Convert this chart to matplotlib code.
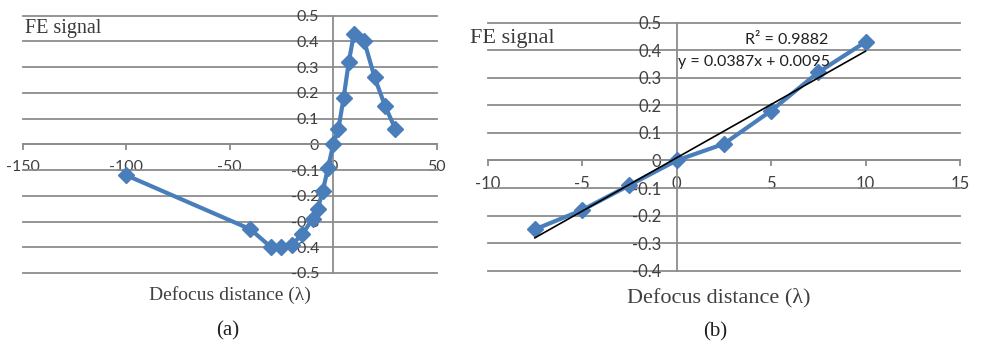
import matplotlib
matplotlib.use("Agg")
import matplotlib.pyplot as plt
import numpy as np

# ---- data ----
left_x = [-100, -40, -30, -25, -20, -15, -10, -7.5, -5, -2.5, 0, 2.5, 5, 7.5, 10, 15, 20, 25, 30]
left_y = [-0.12, -0.33, -0.40, -0.40, -0.39, -0.35, -0.29, -0.25, -0.18, -0.09, 0.0, 0.06, 0.18, 0.32, 0.43, 0.40, 0.26, 0.15, 0.06]

right_x = [-7.5, -5, -2.5, 0, 2.5, 5, 7.5, 10]
right_y = [-0.25, -0.18, -0.09, 0.0, 0.06, 0.18, 0.32, 0.43]

trend_slope = 0.0387
trend_intercept = 0.0095

left_xticks = [-150, -100, -50, 0, 50]
left_xticklabels = ["-150", "-100", "-50", "0", "50"]
left_yticks = [0.5, 0.4, 0.3, 0.2, 0.1, 0.0, -0.1, -0.2, -0.3, -0.4, -0.5]
left_yticklabels = ["0.5", "0.4", "0.3", "0.2", "0.1", "0", "-0.1", "-0.2", "-0.3", "-0.4", "-0.5"]

right_xticks = [-10, -5, 0, 5, 10, 15]
right_xticklabels = ["-10", "-5", "0", "5", "10", "15"]
right_yticks = [0.5, 0.4, 0.3, 0.2, 0.1, 0.0, -0.1, -0.2, -0.3, -0.4]
right_yticklabels = ["0.5", "0.4", "0.3", "0.2", "0.1", "0", "-0.1", "-0.2", "-0.3", "-0.4"]

ylabel_text = "FE signal"
xlabel_text = "Defocus distance (\u03bb)"
eq_text = "y = 0.0387x + 0.0095"
r2_text = "R\u00b2 = 0.9882"

# ---- style ----
BLUE = "#4a7ebb"
GRID = "#8c8c8c"
TICKC = "#404040"
SERIF = ["Liberation Serif", "DejaVu Serif"]
SANS = ["Lato", "DejaVu Sans"]

fig = plt.figure(figsize=(9.87, 3.44), dpi=100)


def style_axes(ax, xlim, ylim, xticks, xtl, yticks, ytl, fs, ypad):
    ax.set_xlim(*xlim)
    ax.set_ylim(*ylim)
    for s in ("top", "right"):
        ax.spines[s].set_visible(False)
    ax.spines["left"].set_position(("data", 0))
    ax.spines["bottom"].set_position(("data", 0))
    for s in ("left", "bottom"):
        ax.spines[s].set_color(GRID)
        ax.spines[s].set_linewidth(1.3)
    ax.set_xticks(xticks)
    ax.set_xticklabels(xtl, fontfamily=SANS, fontsize=fs, color=TICKC)
    ax.set_yticks(yticks)
    ax.set_yticklabels(ytl, fontfamily=SANS, fontsize=fs, color=TICKC)
    ax.tick_params(axis="x", direction="out", length=4, width=1.3, color=GRID, pad=7.5)
    ax.tick_params(axis="y", length=0, pad=ypad)
    ax.yaxis.grid(True, color=GRID, linewidth=1.3)
    for gl in ax.get_ygridlines():
        gl.set_clip_on(False)
    ax.set_axisbelow(True)
    ax.patch.set_alpha(0)


# Left panel (a)
axL = fig.add_axes([0.023, 0.2064, 0.4195, 0.7478])
style_axes(axL, (-150, 50), (-0.5, 0.5), left_xticks, left_xticklabels,
           left_yticks, left_yticklabels, 11.5, 10)
axL.plot(left_x, left_y, color=BLUE, lw=3.0, marker="D", ms=8, mec=BLUE, mfc=BLUE, zorder=3)
fig.text(25 / 987, 1 - 28 / 344, ylabel_text, fontfamily=SERIF, fontsize=14.5,
         color="#3a3a3a", ha="left", va="center")
fig.text(230 / 987, 1 - 295 / 344, xlabel_text, fontfamily=SERIF, fontsize=14,
         color="#404040", ha="center", va="center")
fig.text(228 / 987, 1 - 331 / 344, "(a)", fontfamily=SERIF, fontsize=15,
         color="#202020", ha="center", va="center")

# Right panel (b)
axR = fig.add_axes([0.4941, 0.2131, 0.4785, 0.7210])
style_axes(axR, (-10, 15), (-0.4, 0.5), right_xticks, right_xticklabels,
           right_yticks, right_yticklabels, 12, 11)
axR.plot(right_x, right_y, color=BLUE, lw=3.0, marker="D", ms=8, mec=BLUE, mfc=BLUE, zorder=3)
tx = np.array([min(right_x), max(right_x)])
axR.plot(tx, trend_slope * tx + trend_intercept, color="black", lw=1.2, zorder=4)
axR.text(5.85, 0.437, r2_text, fontfamily=SANS, fontsize=11.5, color="#202020",
         ha="center", va="center")
axR.text(0.07, 0.357, eq_text, fontfamily=SANS, fontsize=11.5, color="#202020",
         ha="left", va="center")
fig.text(470 / 987, 1 - 38 / 344, ylabel_text, fontfamily=SERIF, fontsize=16,
         color="#3a3a3a", ha="left", va="center")
fig.text(719 / 987, 1 - 298 / 344, xlabel_text, fontfamily=SERIF, fontsize=16,
         color="#404040", ha="center", va="center")
fig.text(715 / 987, 1 - 332 / 344, "(b)", fontfamily=SERIF, fontsize=15,
         color="#202020", ha="center", va="center")

fig.savefig("out.png", dpi=100)
